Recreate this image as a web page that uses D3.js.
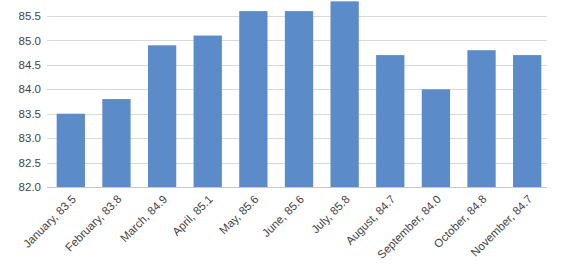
<!DOCTYPE html>
<html><head><meta charset="utf-8">
<script src="https://cdn.jsdelivr.net/npm/d3@7"></script>
<style>body{margin:0;background:#fff}svg{display:block}</style>
</head><body><svg id="c" width="580" height="265"></svg>
<script>
const categories = ["January","February","March","April","May","June","July","August","September","October","November"];
const values = [83.5,83.8,84.9,85.1,85.6,85.6,85.8,84.7,84.0,84.8,84.7];
const yTicks = [82.0,82.5,83.0,83.5,84.0,84.5,85.0,85.5];

const svg = d3.select("#c");
const x = d3.scaleBand().domain(categories).range([48,550]).paddingInner(0.38).paddingOuter(0.19);
const y = d3.scaleLinear().domain([82,85.5]).range([187,16]);

svg.append("g").selectAll("line").data(yTicks.slice(1)).join("line")
  .attr("x1",47).attr("x2",547).attr("y1",d=>Math.round(y(d))+0.5).attr("y2",d=>Math.round(y(d))+0.5)
  .attr("stroke","#d9d9d9").attr("stroke-width",1);

svg.append("g").selectAll("rect").data(values).join("rect")
  .attr("x",(d,i)=>x(categories[i])).attr("width",x.bandwidth())
  .attr("y",d=>y(d)).attr("height",d=>y(82)-y(d)).attr("fill","#5b8cc9");

const yAxis = svg.append("g").attr("transform","translate(47,0)")
  .call(d3.axisLeft(y).tickValues(yTicks).tickFormat(d3.format(".1f")).tickSize(0).tickPadding(6));
yAxis.select(".domain").remove();
yAxis.selectAll("text").attr("font-family","Arial, Liberation Sans, sans-serif").attr("font-size",11.5).attr("fill","#444");

const xAxis = svg.append("g").attr("transform","translate(0,187)")
  .call(d3.axisBottom(x).tickSize(0).tickFormat((d,i)=>d+", "+values[i].toFixed(1)));
xAxis.select(".domain").attr("stroke","#c8c8c8").attr("d","M47,0.5H547");
xAxis.selectAll("text").attr("font-family","Arial, Liberation Sans, sans-serif").attr("font-size",11.5).attr("fill","#444")
  .attr("text-anchor","end").attr("transform","translate(3,10) rotate(-45)").attr("dy","0.35em").attr("y",0);
</script></body></html>
